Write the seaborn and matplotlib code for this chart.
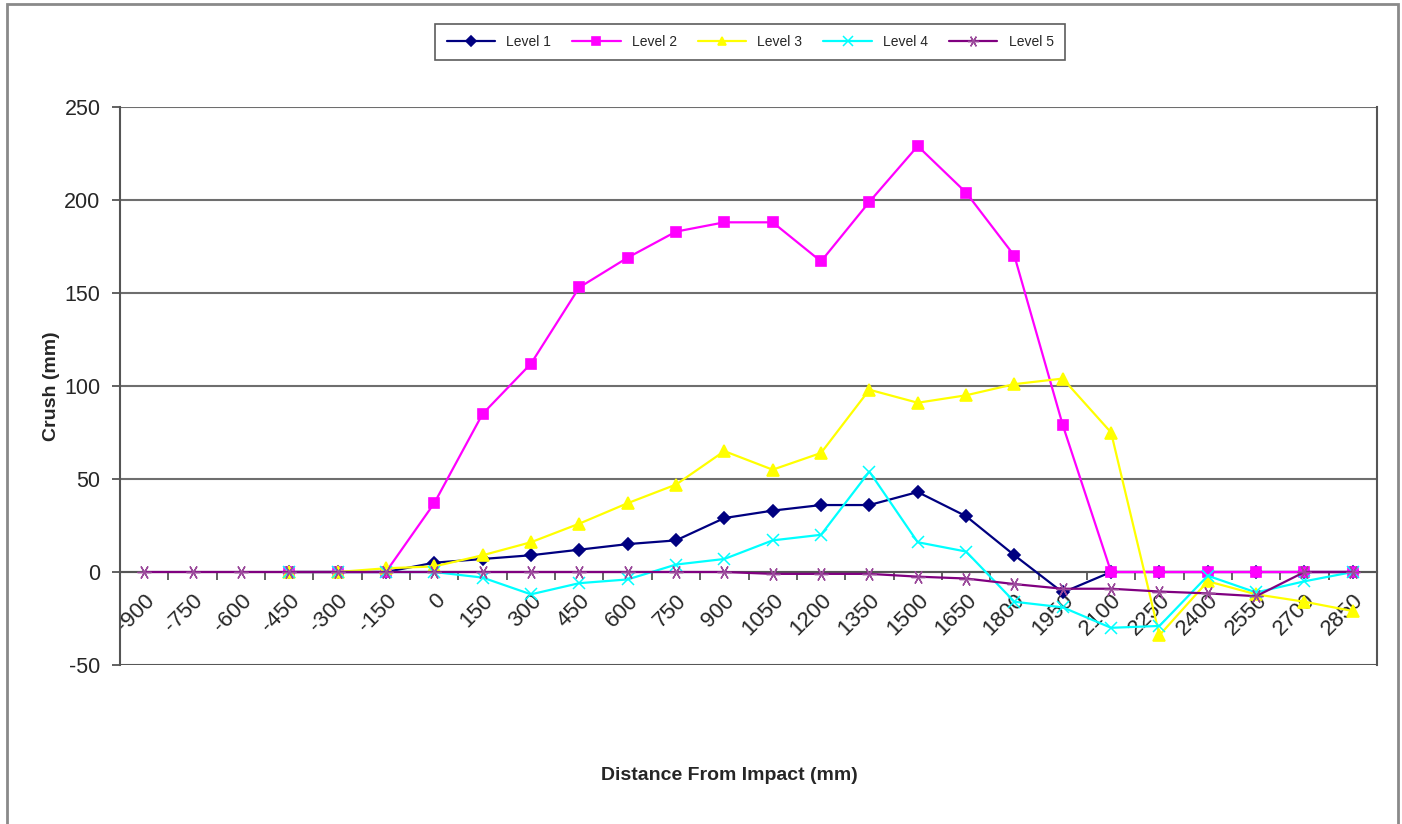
import numpy as np
import pandas as pd
import matplotlib
matplotlib.use("Agg")
import matplotlib.pyplot as plt
from matplotlib.patches import Rectangle
import seaborn as sns

distances = [-900, -750, -600, -450, -300, -150, 0, 150, 300, 450, 600, 750, 900,
             1050, 1200, 1350, 1500, 1650, 1800, 1950, 2100, 2250, 2400, 2550, 2700, 2850]

nan = np.nan
level1 = [nan, nan, nan, 0, 0, 0, 5, 7, 9, 12, 15, 17, 29,
          33, 36, 36, 43, 30, 9, -11, 0, 0, 0, 0, 0, 0]
level2 = [nan, nan, nan, 0, 0, 0, 37, 85, 112, 153, 169, 183, 188,
          188, 167, 199, 229, 204, 170, 79, 0, 0, 0, 0, 0, 0]
level3 = [nan, nan, nan, 0, 0, 2, 3, 9, 16, 26, 37, 47, 65,
          55, 64, 98, 91, 95, 101, 104, 75, -34, -5, -12, -16, -21]
level4 = [nan, nan, nan, 0, 0, 0, 0, -3, -12, -6, -4, 4, 7,
          17, 20, 54, 16, 11, -16, -19, -30, -29, -2, -11, -5, 0]
level5 = [0, 0, 0, 0, 0, 0, 0, 0, 0, 0, 0, 0, 0,
          -1, -1, -1, -2.5, -3.5, -6.5, -9, -9, -10.5, -11.5, -13, 0, 0]

series = {"Level 1": level1, "Level 2": level2, "Level 3": level3,
          "Level 4": level4, "Level 5": level5}
colors = {"Level 1": "#000080", "Level 2": "#FF00FF", "Level 3": "#FFFF00",
          "Level 4": "#00FFFF", "Level 5": "#800080"}
edge = {"Level 1": "#000080", "Level 2": "#FF00FF", "Level 3": "#FFFF00",
        "Level 4": "#00FFFF", "Level 5": "#9B4A9B"}
markers = {"Level 1": "D", "Level 2": "s", "Level 3": "^",
           "Level 4": "x", "Level 5": (6, 2, 90)}
msizes = {"Level 1": 6, "Level 2": 7, "Level 3": 8, "Level 4": 9, "Level 5": 10}
mew = {"Level 1": 1.2, "Level 2": 1.2, "Level 3": 1.2, "Level 4": 1.1, "Level 5": 1.0}

sns.set_style("white")
plt.rcParams["font.family"] = ["Liberation Sans", "DejaVu Sans"]
plt.rcParams["axes.unicode_minus"] = False

fig = plt.figure(figsize=(14.02, 8.24), dpi=100)
ax = fig.add_axes([120 / 1402, 1 - 665 / 824, 1257 / 1402, 558 / 824])

pos = np.arange(len(distances))
for name, vals in series.items():
    df = pd.DataFrame({"x": pos, "y": vals}).dropna()
    sns.lineplot(data=df, x="x", y="y", ax=ax, color=colors[name], label=name,
                 marker=markers[name], markersize=msizes[name],
                 markeredgecolor=edge[name], markeredgewidth=mew[name],
                 linewidth=1.6, zorder=3)

ax.set_xlim(-0.5, len(distances) - 0.5)
ax.set_ylim(-50, 250)
ax.set_yticks(range(-50, 251, 50))
ax.yaxis.grid(True, color="#6e6e6e", linewidth=1.5)
ax.set_axisbelow(True)

# category axis crossing at zero
ax.spines["bottom"].set_position(("data", 0))
ax.spines["bottom"].set_color("#555555")
ax.spines["bottom"].set_linewidth(1.5)
ax.spines["top"].set_visible(False)
ax.spines["left"].set_color("#555555")
ax.spines["left"].set_linewidth(1.5)
ax.spines["right"].set_color("#555555")
ax.spines["right"].set_linewidth(1.5)
ax.axhline(-50, color="#555555", linewidth=2, zorder=1)

ax.set_xticks(pos)
ax.set_xticklabels([str(d) for d in distances], rotation=45, ha="right",
                   rotation_mode="anchor", fontsize=16)
ax.set_xticks(pos[:-1] + 0.5, minor=True)
ax.tick_params(axis="x", which="major", length=0, pad=13)
ax.tick_params(axis="x", which="minor", length=6, width=1.3, color="#555555",
               direction="out", bottom=True)
ax.tick_params(axis="y", length=6, width=1.3, color="#555555", direction="out",
               left=True, labelsize=15.5, pad=8)

ax.set_xlabel("Distance From Impact (mm)", fontsize=14, fontweight="bold")
ax.xaxis.set_label_coords(0.485, -0.183)
ax.set_ylabel("Crush (mm)", fontsize=14, fontweight="bold")
ax.yaxis.set_label_coords(-0.048, 0.5)

ax.get_legend().remove()
handles, labels = ax.get_legend_handles_labels()
leg = fig.legend(handles, labels, loc="center", bbox_to_anchor=(0.535, 0.949),
                 ncol=5, fontsize=10, frameon=True, fancybox=False,
                 edgecolor="#333333", handlelength=3.5, columnspacing=1.5,
                 borderpad=0.8, markerscale=0.8)
leg.get_frame().set_linewidth(1.2)

fig.patches.append(Rectangle((7 / 1402, -0.02), 1391 / 1402, 1.015,
                             transform=fig.transFigure, fill=False,
                             edgecolor="#8a8a8a", linewidth=2))

fig.savefig("out.png", dpi=100)
